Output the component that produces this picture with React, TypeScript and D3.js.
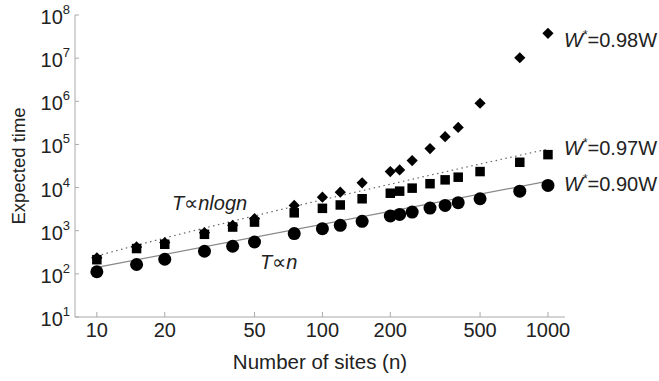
import React from 'react';
import * as d3 from 'd3';

// number of sites
const sites = [10, 15, 20, 30, 40, 50, 75, 100, 120, 150, 200, 220, 250, 300, 350, 400, 500, 750, 1000];

// expected time per series
const w98 = [235, 420, 530, 900, 1330, 1900, 3860, 6000, 7830, 12900, 23500, 25700, 42300, 80000, 151000, 248000, 900000, 10200000, 37600000];
const w97 = [213, 386, 485, 826, 1216, 1585, 2600, 3300, 3950, 5500, 7400, 8260, 9700, 12300, 15100, 17400, 23500, 38600, 58000];
const w90 = [112, 165, 218, 334, 437, 548, 857, 1117, 1333, 1650, 2190, 2390, 2700, 3340, 3860, 4460, 5510, 8260, 11200];

const xTicks = [10, 20, 50, 100, 200, 500, 1000];
const yExponents = [1, 2, 3, 4, 5, 6, 7, 8];

// reference lines
const linearCoef = 14.1; // T = c * n
const nlognCoef = 26; // T = c * n * log10(n)

const labels = ['0.98W', '0.97W', '0.90W'];
const labelBaselines = [47, 155, 191];

const font = 'Liberation Sans, Arial, Helvetica, sans-serif';

const App = () => {
  const width = 659;
  const height = 381;

  const x = d3.scaleLog().domain([8, 1190]).range([75, 565]);
  const y = d3.scaleLog().domain([10, 1e8]).range([317, 15]);

  const axisColor = '#aaa';

  const lineN = d3
    .line<number>()
    .x((n) => x(n))
    .y((n) => y(linearCoef * n));
  const lineNlogN = d3
    .line<number>()
    .x((n) => x(n))
    .y((n) => y(nlognCoef * n * Math.log10(n)));
  const lineSamples = [10, 1000];
  const curveSamples = d3.range(0, 41).map((i) => Math.pow(10, 1 + i / 20));

  const diamond = d3.symbol(d3.symbolDiamond2, 80)();

  return (
    <svg width={width} height={height} style={{ display: 'block', position: 'absolute', left: 0, top: 0 }} fontFamily={font}>
      <rect width={width} height={height} fill="#fff" />

      {/* axes */}
      <line x1={x(8)} x2={x(8)} y1={y(1e8)} y2={y(10)} stroke={axisColor} />
      <line x1={x(8)} x2={x(1190)} y1={y(10)} y2={y(10)} stroke={axisColor} />
      {yExponents.map((e) => (
        <g key={e}>
          <line x1={x(8)} x2={x(8) + 4} y1={y(Math.pow(10, e))} y2={y(Math.pow(10, e))} stroke={axisColor} />
          <text x={70} y={y(Math.pow(10, e)) + 9} textAnchor="end" fontSize={20} fill="#222">
            10
            <tspan fontSize={13} dy={-10}>{e}</tspan>
          </text>
        </g>
      ))}
      {xTicks.map((t) => (
        <g key={t}>
          <line x1={x(t)} x2={x(t)} y1={y(10)} y2={y(10) - 5} stroke={axisColor} />
          <text x={x(t)} y={337} textAnchor="middle" fontSize={20} fill="#222">
            {t}
          </text>
        </g>
      ))}
      <text x={320} y={369} textAnchor="middle" fontSize={20.5} fill="#222">
        Number of sites (n)
      </text>
      <text transform="translate(25,166) rotate(-90)" textAnchor="middle" fontSize={18.5} fill="#222">
        Expected time
      </text>

      {/* reference lines */}
      <path d={lineN(lineSamples) ?? ''} fill="none" stroke="#888" strokeWidth={1.2} />
      <path d={lineNlogN(curveSamples) ?? ''} fill="none" stroke="#666" strokeWidth={1.2} strokeDasharray="1.5,3.5" />

      {/* markers */}
      {sites.map((n, i) => (
        <rect key={'s' + n} x={x(n) - 4.75} y={y(w97[i]) - 4.75} width={9.5} height={9.5} fill="#000" />
      ))}
      {sites.map((n, i) => (
        <path key={'d' + n} d={diamond ?? ''} transform={`translate(${x(n)},${y(w98[i])})`} fill="#000" />
      ))}
      {sites.map((n, i) => (
        <circle key={'c' + n} cx={x(n)} cy={y(w90[i])} r={6.5} fill="#000" />
      ))}

      {/* annotations */}
      <text x={172} y={210} fontSize={20} fill="#222">
        <tspan fontStyle="italic">T</tspan>
        <tspan>∝</tspan>
        <tspan fontStyle="italic">nlogn</tspan>
      </text>
      <text x={260} y={269} fontSize={20} fill="#222">
        <tspan fontStyle="italic">T</tspan>
        <tspan>∝</tspan>
        <tspan fontStyle="italic">n</tspan>
      </text>

      {/* series labels */}
      {labels.map((l, i) => (
        <text key={l} x={564} y={labelBaselines[i]} fontSize={20} fill="#222">
          <tspan fontStyle="italic">W</tspan>
          <tspan fontSize={12} dy={-8}>*</tspan>
          <tspan dy={8}>={l}</tspan>
        </text>
      ))}
    </svg>
  );
};

export default App;
